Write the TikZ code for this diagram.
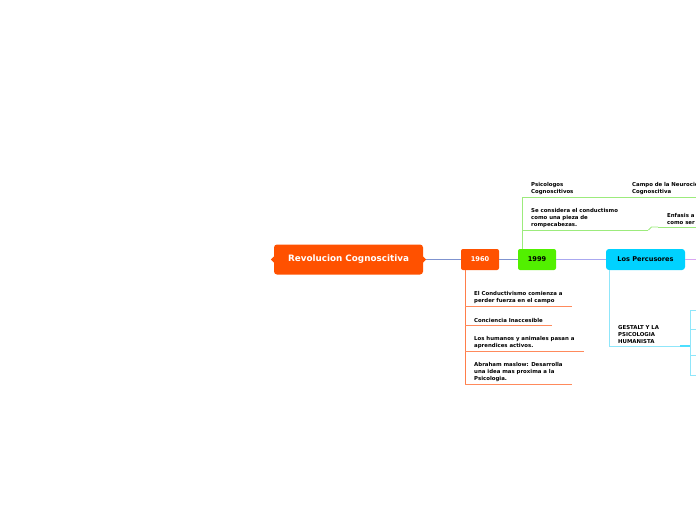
\documentclass[tikz,border=0pt]{standalone}
\usepackage{fontspec}
\setmainfont{DejaVu Sans}
\usetikzlibrary{positioning,calc}
\definecolor{MapOrange}{HTML}{FF5100}
\definecolor{MapGreen}{HTML}{52F000}
\definecolor{MapCyan}{HTML}{00D2FF}
\definecolor{MainLink}{HTML}{7F93CF}
\definecolor{LavLink}{HTML}{AAA8F0}
\definecolor{PurLink}{HTML}{D9A6F2}
\definecolor{OrangeLine}{HTML}{FF8A5C}
\definecolor{GreenLine}{HTML}{9CEB7C}
\definecolor{CyanLine}{HTML}{8FE6FA}

\begin{document}
\begin{tikzpicture}[
  x=1pt, y=-1pt,
  central/.style={fill=MapOrange,rounded corners=3pt,minimum width=149pt,minimum height=30pt,
    text=white,font=\bfseries\fontsize{8.8}{10}\selectfont},
  yearbox/.style={rounded corners=2pt,minimum width=38pt,minimum height=21pt,inner sep=0pt,
    font=\bfseries\fontsize{6.6}{8}\selectfont},
  topic/.style={anchor=south west,align=left,inner xsep=9pt,inner ysep=2.5pt,
    font=\bfseries\fontsize{5.4}{6.8}\selectfont},
  link/.style={line width=1.5pt},
  branch/.style={line width=0.9pt}
]
  \useasboundingbox (0,0) rectangle (696,520);
  \clip (0,0) rectangle (696,520);

  % main topic and the chain to the right
  \node[central] (main) at (348.5,259.5) {Revolucion Cognoscitiva};
  \node[yearbox,fill=MapOrange,text=white] (n1960) at (480,259.5) {1960};
  \node[yearbox,fill=MapGreen] (n1999) at (537,259.5) {1999};
  \node[yearbox,fill=MapCyan,minimum width=79pt,rounded corners=3pt] (percusores) at (645.5,259.5) {Los Percusores};
  \coordinate (further) at (702,259.5);

  \draw[link,MainLink] (main.east) -- (n1960.west);
  \draw[branch,MainLink] (n1960.east) -- (n1999.west);
  \draw[branch,LavLink] (n1999.east) -- (percusores.west);
  \draw[branch,PurLink] (percusores.east) -- (further);

  \fill[MapOrange] (main.west) ++(0,-3) -- ++(-3,3) -- ++(3,3) -- cycle;
  \fill[MapOrange] (main.east) ++(0,-3) -- ++(3,3) -- ++(-3,3) -- cycle;

  % 1960
  \node[topic] (conductivismo) at (465,306) {El Conductivismo comienza a\\perder fuerza en el campo};
  \node[topic] (conciencia) at (465,325) {Conciencia Inaccesible};
  \node[topic] (humanos) at (465,351) {Los humanos y animales pasan a\\aprendices activos.};
  \node[topic] (maslow) at (465,384) {Abraham maslow: Desarrolla\\una idea mas proxima a la\\Psicologia.};

  \draw[branch,OrangeLine!80!MapOrange] (n1960.south -| maslow.south west) -- (maslow.south west);
  \foreach \t in {conductivismo,conciencia,humanos,maslow}
    \draw[branch,OrangeLine] (\t.south west) -- (\t.south east);

  % 1999
  \node[topic,text width=60pt] (psicologos) at (522,197) {Psicologos\\Cognoscitivos};
  \node[topic,text width=100pt] (neurociencia) at (623,197) {Campo de la Neurociencia\\Cognoscitiva};
  \node[topic,text width=108pt] (rompecabezas) at (522,230) {Se considera el conductismo\\como una pieza de\\rompecabezas.};
  \node[topic,text width=50pt] (enfasis) at (658,227) {Enfasis a\\como ser};

  \draw[branch,GreenLine] (n1999.north -| psicologos.south west) -- (psicologos.south west);
  \foreach \t in {psicologos,neurociencia,rompecabezas,enfasis}
    \draw[branch,GreenLine] (\t.south west) -- (\t.south east);
  \draw[branch,GreenLine] (psicologos.south east) -- (neurociencia.south west);
  \draw[branch,GreenLine] (rompecabezas.south east) -- ++(3,-3) -- (enfasis.south west);

  % Los Percusores
  \node[topic,text width=53pt] (gestalt) at (609,346) {GESTALT Y LA\\PSICOLOGIA\\HUMANISTA};
  \coordinate (fork) at (690,346);
  \coordinate (g1) at (702,310);
  \coordinate (g2) at (702,329);
  \coordinate (g3) at (702,355);
  \coordinate (g4) at (702,375);

  \draw[branch,CyanLine] (percusores.south -| gestalt.south west) -- (gestalt.south west);
  \draw[branch,CyanLine] (gestalt.south west) -- (gestalt.south east);
  \draw[line width=1.3pt,MapCyan!70] (gestalt.south east) -- (fork);
  \foreach \g in {g1,g2,g3,g4}
    \draw[branch,CyanLine] (fork) |- (\g);
\end{tikzpicture}
\end{document}
